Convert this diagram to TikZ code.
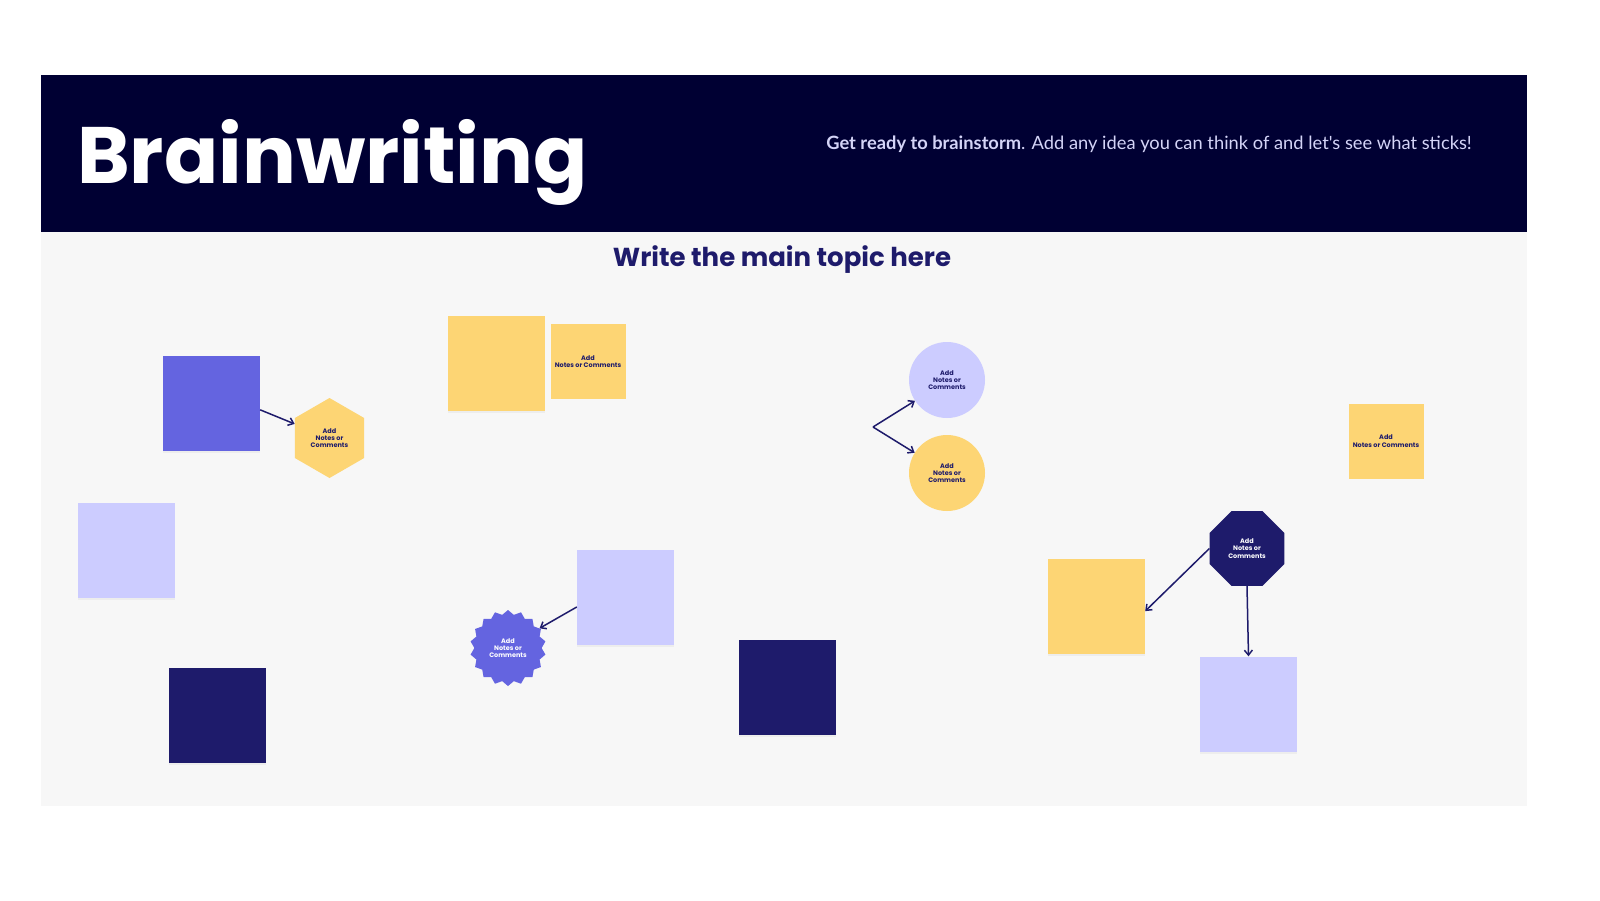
\documentclass[tikz,border=0pt]{standalone}
\usepackage{fontspec}
\newfontfamily\popfont{Poppins}
\newfontfamily\subfont{Lato}
\usepackage{tikz}
\usetikzlibrary{positioning,arrows.meta,shapes.geometric,shadows}
\definecolor{headbg}{HTML}{000033}
\definecolor{panel}{HTML}{F7F7F7}
\definecolor{violet}{HTML}{6464E0}
\definecolor{lavender}{HTML}{CCCCFF}
\definecolor{sticky}{HTML}{FDD574}
\definecolor{navy}{HTML}{1E1B6B}
\definecolor{subtext}{HTML}{D4D4F7}

\begin{document}
\begin{tikzpicture}[x=1pt,y=-1pt,
            note/.style={rectangle, inner sep=0pt, minimum width=97pt, minimum height=95pt,
                   drop shadow={shadow xshift=0pt, shadow yshift=-2pt, fill=black!10}},
            small/.style={rectangle, inner sep=0pt, minimum size=75pt, fill=sticky,
                   text=navy, align=center, font=\popfont\bfseries\fontsize{6.5}{7.5}\selectfont},
            shapetext/.style={inner sep=0pt, align=center, font=\popfont\bfseries\fontsize{6.5}{7.2}\selectfont},
            arrow/.style={-{Straight Barb[length=5pt,width=8pt]}, draw=navy, line width=1.5pt}
        ]
            \useasboundingbox (0,0) rectangle (1600,900);
            \fill[white] (0,0) rectangle (1600,900);
            \fill[panel] (41,232) rectangle (1527,806);
            \fill[headbg] (41,75) rectangle (1527,232);

            % header texts
            \node [anchor=base west, inner sep=0pt, text=white, font=\popfont\bfseries\fontsize{80}{82}\selectfont] (title) at (77,183) {Brainwriting};
            \node [anchor=east, inner sep=0pt, text=subtext, font=\subfont\fontsize{18.3}{20}\selectfont] (intro) at (1472,144) {\textbf{Get ready to brainstorm}. Add any idea you can think of and let's see what sticks!};
            \node [inner sep=0pt, text=navy, font=\popfont\bfseries\fontsize{26}{28}\selectfont] (topic) at (782,260) {Write the main topic here};

            % sticky notes
            \node [note, fill=violet] (sqViolet) at (211.5,403) {};
            \node [note, fill=sticky] (sqYellowTop) at (496.5,363) {};
            \node [small] (noteA) at (588,361.5) {Add\\Notes or Comments};
            \node [small] (noteB) at (1386,441) {Add\\Notes or Comments};
            \node [note, fill=lavender] (sqLavLeft) at (126.5,550.5) {};
            \node [note, fill=lavender] (sqLavMid) at (625.5,597.5) {};
            \node [note, fill=navy] (sqNavyLeft) at (217.5,715) {};
            \node [note, fill=navy] (sqNavyMid) at (787.5,687) {};
            \node [note, fill=sticky] (sqYelRight) at (1096.5,606) {};
            \node [note, fill=lavender] (sqLavRight) at (1248.5,704) {};

            % comment shapes
            \node [shapetext, regular polygon, regular polygon sides=6, shape border rotate=30,
                   minimum size=80pt, fill=sticky, text=navy] (hexNote) at (329.5,438) {Add\\Notes or\\Comments};
            \node [shapetext, circle, minimum size=76pt, fill=lavender, text=navy] (circLav) at (947,380) {Add\\Notes or\\Comments};
            \node [shapetext, circle, minimum size=76pt, fill=sticky, text=navy] (circYel) at (947,473) {Add\\Notes or\\Comments};
            \node [shapetext, star, star points=18, star point ratio=1.13,
                   minimum size=76pt, fill=violet, text=white] (starNote) at (508,648) {Add\\Notes or\\Comments};
            \node [shapetext, regular polygon, regular polygon sides=8,
                   minimum size=81pt, fill=navy, text=white] (octNote) at (1247,548.5) {Add\\Notes or\\Comments};
            \coordinate (fork) at (873,427);

            % Draw edges
            \draw [arrow] (sqViolet.-8) -- (hexNote.158);
            \draw [arrow] (fork) -- (circLav.213);
            \draw [arrow] (fork) -- (circYel.148);
            \draw [arrow] (sqLavMid.191) -- (starNote.32);
            \draw [arrow] (octNote.west) -- (sqYelRight.-6);
            \draw [arrow] (octNote.south) -- (sqLavRight.north);
        \end{tikzpicture}
\end{document}
